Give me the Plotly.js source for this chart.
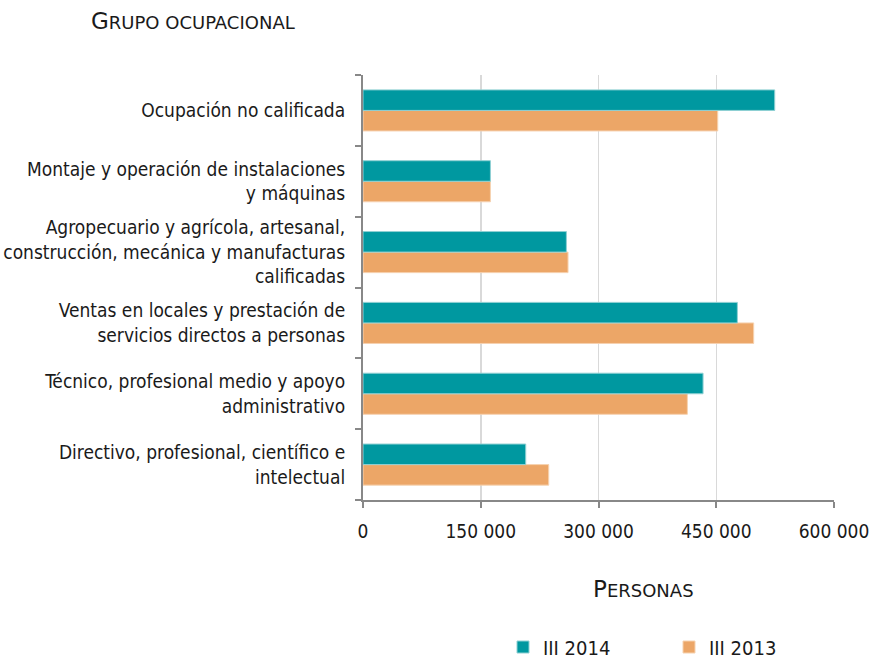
<!DOCTYPE html>
<html>
<head>
<meta charset="utf-8">
<script src="https://cdn.plot.ly/plotly-3.0.1.min.js"></script>
<style>html,body{margin:0;padding:0;background:#fff;}#chart{width:870px;height:660px;}</style>
</head>
<body>
<div id="chart"></div>
<script>
const categories = [
  "Directivo, profesional, científico e<br>intelectual",
  "Técnico, profesional medio y apoyo<br>administrativo",
  "Ventas en locales y prestación de<br>servicios directos a personas",
  "Agropecuario y agrícola, artesanal,<br>construcción, mecánica y manufacturas<br>calificadas",
  "Montaje y operación de instalaciones<br>y máquinas",
  "Ocupación no calificada"
];
const values2014 = [207300, 433200, 476900, 259100, 162300, 524500];
const values2013 = [236600, 413200, 497700, 261200, 162300, 451900];
const seriesNames = ["III 2014", "III 2013"];
const xTicks = [0, 150000, 300000, 450000, 600000];

const FONT = "'DejaVu Sans Condensed', 'Liberation Sans Narrow', 'DejaVu Sans', sans-serif";
const TITLE_FONT = "'DejaVu Sans', sans-serif";

function smallCaps(s, big, small) {
  return '<span style="font-size:' + big + 'px">' + s[0].toUpperCase() + '</span>' +
         '<span style="font-size:' + small + 'px">' + s.slice(1).toUpperCase() + '</span>';
}

const traces = [
  {
    type: 'bar', orientation: 'h', name: seriesNames[1],
    y: categories, x: values2013,
    marker: {color: '#eca667', line: {color: '#f6d2b0', width: 1}},
    hoverinfo: 'x+name'
  },
  {
    type: 'bar', orientation: 'h', name: seriesNames[0],
    y: categories, x: values2014,
    marker: {color: '#0098a0', line: {color: '#8fd0d3', width: 1}},
    hoverinfo: 'x+name'
  }
];

const layout = {
  width: 870, height: 660,
  margin: {l: 363, r: 36, t: 75, b: 160, autoexpand: false},
  paper_bgcolor: '#fff', plot_bgcolor: '#fff',
  font: {family: FONT, size: 19, color: '#1a1a1a'},
  separators: ', ',
  barmode: 'group',
  bargap: 0.42,
  bargroupgap: 0,
  showlegend: true,
  legend: {
    orientation: 'h', traceorder: 'reversed',
    x: (503 - 363) / 471, xanchor: 'left', y: (500 - 647) / 425, yanchor: 'middle',
    font: {family: FONT, size: 20, color: '#1a1a1a'},
    entrywidth: 121, entrywidthmode: 'pixels'
  },
  title: {
    text: smallCaps('Grupo ocupacional', 23, 18),
    xref: 'container', yref: 'container',
    x: 91/870, xanchor: 'left', y: 1 - 21/660, yanchor: 'middle',
    font: {family: TITLE_FONT, size: 23, color: '#1a1a1a'}
  },
  xaxis: {
    range: [0, 600000],
    tickvals: xTicks,
    tickformat: ',d',
    showgrid: true, gridcolor: '#d9d9d9', gridwidth: 1.5,
    zeroline: false,
    showline: true, linecolor: '#888888', linewidth: 2,
    ticks: 'outside', ticklen: 6, tickcolor: '#888888', tickwidth: 2,
    ticklabelstandoff: 7,
    tickfont: {family: FONT, size: 19, color: '#1a1a1a'},
    fixedrange: true
  },
  yaxis: {
    type: 'category',
    categoryorder: 'array', categoryarray: categories,
    tickson: 'boundaries',
    ticks: 'outside', ticklen: 6, tickcolor: '#888888', tickwidth: 2,
    showline: true, linecolor: '#888888', linewidth: 2,
    showgrid: false, zeroline: false,
    ticklabelstandoff: 12,
    tickfont: {family: FONT, size: 19, color: '#1a1a1a'},
    fixedrange: true
  },
  annotations: [
    {
      text: smallCaps('Personas', 23, 18), xref: 'paper', yref: 'paper',
      x: (643 - 363) / 471, y: (500 - 589) / 425,
      xanchor: 'center', yanchor: 'middle', showarrow: false,
      font: {family: TITLE_FONT, size: 23, color: '#1a1a1a'}
    }
  ]
};

Plotly.newPlot('chart', traces, layout, {displayModeBar: false, staticPlot: true});
</script>
</body>
</html>
